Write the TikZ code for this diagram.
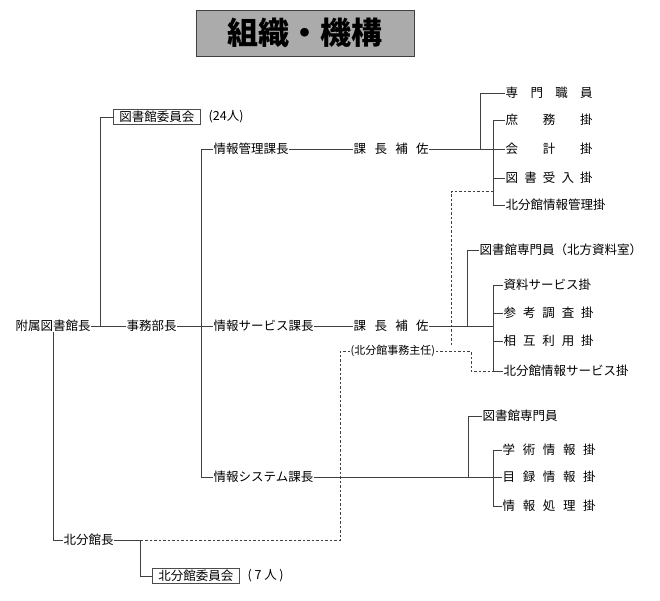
\documentclass[tikz,border=0pt]{standalone}
\usepackage{fontspec}
\usetikzlibrary{calc}
\newfontfamily\jp{Noto Sans CJK JP}
\newcommand{\spread}[2]{\makebox[#1][s]{#2}}

\begin{document}
\begin{tikzpicture}[x=1pt, y=-1pt,
		post/.style={anchor=west, inner sep=0.5pt, font=\jp\fontsize{12.5}{13}\selectfont},
		board/.style={post, draw=black!70, line width=0.6pt, inner xsep=6pt, minimum height=15pt},
		note/.style={post, font=\jp\fontsize{11}{12}\selectfont},
		link/.style={draw=black!75, line width=0.6pt},
		dotlink/.style={link, dash pattern=on 2.5pt off 2pt}]
	\useasboundingbox (0, 0) rectangle (660, 600);
	% title
	\node[draw=black!75, fill=black!33, line width=1pt, minimum width=218pt, minimum height=46pt, font=\jp\bfseries\fontsize{31}{32}\selectfont] (title) at (305, 33) {組織・機構};
	% heads
	\node[post] (fuzoku) at (15, 326) {附属図書館長};
	\node[post] (jimu) at (126, 326) {事務部長};
	\node[post] (kanri) at (213, 149) {情報管理課長};
	\node[post] (service) at (213, 326) {情報サービス課長};
	\node[post] (system) at (213, 477) {情報システム課長};
	\node[post] (hosa1) at (353, 149) {\spread{75pt}{課\hfill 長\hfill 補\hfill 佐}};
	\node[post] (hosa2) at (353, 326) {\spread{75pt}{課\hfill 長\hfill 補\hfill 佐}};
	\node[board] (toshoiin) at (113, 117) {図書館委員会};
	\node[post] (toshoiinsu) at (208, 117) {(24人)};
	\node[post] (kitakan) at (63, 540) {北分館長};
	\node[board] (kitaiin) at (152, 576) {北分館委員会};
	\node[post] (kitaiinsu) at (247, 576) {\spread{36pt}{(\hfill 7\hfill 人\hfill )}};
	% management section
	\node[post] (senmon1) at (505, 93) {\spread{87pt}{専\hfill 門\hfill 職\hfill 員}};
	\node[post] (shomu) at (505, 120) {\spread{87pt}{庶\hfill 務\hfill 掛}};
	\node[post] (kaikei) at (505, 149) {\spread{87pt}{会\hfill 計\hfill 掛}};
	\node[post] (ukeire) at (505, 178) {\spread{87pt}{図\hfill 書\hfill 受\hfill 入\hfill 掛}};
	\node[post] (kanrigakari) at (505, 205) {北分館情報管理掛};
	% service section
	\node[post] (senmon2) at (479, 250) {図書館専門員（北方資料室）};
	\node[post] (shiryo) at (503, 285) {資料サービス掛};
	\node[post] (sanko) at (503, 313) {\spread{90pt}{参\hfill 考\hfill 調\hfill 査\hfill 掛}};
	\node[post] (sogo) at (503, 341) {\spread{90pt}{相\hfill 互\hfill 利\hfill 用\hfill 掛}};
	\node[post] (kitaserv) at (503, 371) {北分館情報サービス掛};
	\node[note] (shunin) at (350, 351) {(北分館事務主任)};
	% system section
	\node[post] (senmon3) at (482, 416) {図書館専門員};
	\node[post] (gakujutsu) at (502, 450) {\spread{93pt}{学\hfill 術\hfill 情\hfill 報\hfill 掛}};
	\node[post] (mokuroku) at (502, 477) {\spread{93pt}{目\hfill 録\hfill 情\hfill 報\hfill 掛}};
	\node[post] (shori) at (502, 506) {\spread{93pt}{情\hfill 報\hfill 処\hfill 理\hfill 掛}};
	% dashed links of the branch
	\draw[dotlink] (shunin.east) -- ++(35, 0) |- (kitaserv.west);
	% solid links
	\draw[link] (fuzoku.east) -- (jimu.west);
	\draw[link] (toshoiin.west) -- ++(-13, 0) |- (fuzoku.east);
	\draw[link] (fuzoku.south) |- (kitakan.west);
	\draw[link] (jimu.east) -- (service.west);
	\draw[link] (kanri.west) -- ++(-12, 0) |- (system.west);
	\draw[link] (kanri.east) -- (hosa1.west);
	\draw[link] (service.east) -- (hosa2.west);
	\draw[link] (kitakan.east) -- ++(26, 0) coordinate (kj) |- (kitaiin.west);
	\draw[link] (hosa1.east) -- (kaikei.west);
	\draw[link] (senmon1.west) -- ++(-25, 0) |- (hosa1.east);
	\draw[link] (shomu.west) -- ++(-12, 0) coordinate (b1) |- (kanrigakari.west);
	\draw[link] (ukeire.west) -- (ukeire.west -| b1);
	\draw[link] (shiryo.west) -- ++(-10, 0) coordinate (b2) |- (kitaserv.west);
	\draw[link] (sanko.west) -- (sanko.west -| b2);
	\draw[link] (sogo.west) -- (sogo.west -| b2);
	\draw[link] (hosa2.east) -- (hosa2.east -| b2);
	\draw[link] (senmon2.west) -- ++(-12, 0) |- (hosa2.east);
	\draw[link] (system.east) -- (mokuroku.west);
	\draw[link] (gakujutsu.west) -- ++(-9, 0) coordinate (b3) |- (shori.west);
	\draw[link] (senmon3.west) -- ++(-14, 0) |- (system.east);
	% dashed links
	\coordinate (mid1) at ($(ukeire.west)!.5!(kanrigakari.west)$);
	\draw[dotlink] (mid1 -| b1) -| ($(shunin.east)+(15, -4)$);
	\draw[dotlink] (shunin.west) -- ++(-10, 0) |- (kj);
\end{tikzpicture}
\end{document}
